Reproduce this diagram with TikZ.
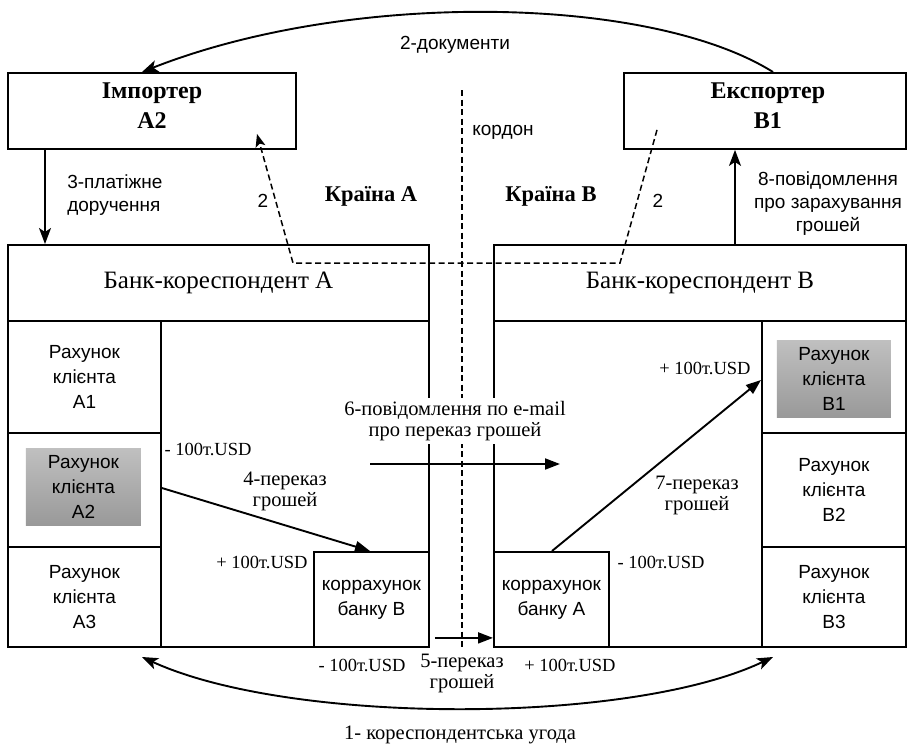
\documentclass[tikz,border=0pt]{standalone}
\usepackage{fontspec}
\setmainfont{Liberation Serif}
\newfontfamily\labelsans{Liberation Sans}
\usetikzlibrary{arrows.meta,calc}

\begin{document}
\begin{tikzpicture}[x=1pt,y=-1pt,
  line width=1.9pt,
  box/.style={draw, line width=1.9pt, anchor=north west, inner sep=0pt, align=center},
  shadebox/.style={anchor=north west, inner sep=0pt, align=center,
    top color=gray!50, bottom color=gray!80},
  sans/.style={font=\labelsans\fontsize{19}{23}\selectfont, align=center},
  acct/.style={font=\labelsans\fontsize{19}{25}\selectfont},
  serif/.style={font=\fontsize{20.5}{21}\selectfont, align=center},
  amount/.style={font=\fontsize{18.5}{20}\selectfont},
  heading/.style={font=\fontsize{25}{28}\selectfont},
  party/.style={font=\bfseries\fontsize{24}{30}\selectfont, align=center},
  country/.style={font=\bfseries\fontsize{22.5}{24}\selectfont},
  tip/.style={-{Triangle[length=15pt,width=11pt]}},
  stip/.style={-{Stealth[length=16pt,width=12pt,inset=4pt]}},
  border/.style={dash pattern=on 6pt off 3.5pt, line width=1.5pt},
]
\useasboundingbox[fill=white] (0,0) rectangle (911,748);

% parties
\node[box, minimum width=288pt, minimum height=76pt] (imp) at (7,72) {};
\node[party] (impT) at ($(imp.center)+(0,-5)$) {Імпортер\\A2};
\node[box, minimum width=282pt, minimum height=76pt] (exp) at (623,72) {};
\node[party] (expT) at ($(exp.center)+(3,-5)$) {Експортер\\B1};

% bank A
\node[box, heading, minimum width=421pt, minimum height=76pt] (bankA) at (7,244) {Банк-кореспондент А};
\node[box, minimum width=421pt, minimum height=326pt] (bodyA) at (7,320) {};
\node[box, acct, minimum width=153pt, minimum height=112pt] (accA1) at (7,320) {Рахунок\\клієнта\\A1};
\node[box, minimum width=153pt, minimum height=114pt] (accA2) at (7,432) {};
\node[box, acct, minimum width=153pt, minimum height=100pt] (accA3) at (7,546) {Рахунок\\клієнта\\A3};
\node[box, acct, minimum width=115pt, minimum height=95pt] (korrB) at (313,551) {коррахунок\\банку В};
\node[shadebox, acct, minimum width=115pt, minimum height=77pt] (shA2) at (25,448) {Рахунок\\клієнта\\A2};

% bank B
\node[box, heading, minimum width=412pt, minimum height=76pt] (bankB) at (493,244) {Банк-кореспондент В};
\node[box, minimum width=412pt, minimum height=326pt] (bodyB) at (493,320) {};
\node[box, minimum width=144pt, minimum height=112pt] (accB1) at (761,320) {};
\node[box, acct, minimum width=144pt, minimum height=114pt] (accB2) at (761,432) {Рахунок\\клієнта\\B2};
\node[box, acct, minimum width=144pt, minimum height=100pt] (accB3) at (761,546) {Рахунок\\клієнта\\B3};
\node[box, acct, minimum width=115pt, minimum height=95pt] (korrA) at (493,551) {коррахунок\\банку А};
\node[shadebox, acct, minimum width=114pt, minimum height=77pt] (shB1) at (776,340) {Рахунок\\клієнта\\B1};

% state border
\coordinate (kTop) at (462,90);
\coordinate (kBot) at (462,648);
\draw[border] (kTop) -- (kBot);
\node[sans, anchor=west] (kordon) at (468,132) {кордон};

\node[country] (cA) at (371,196) {Країна А};
\node[country] (cB) at (551,196) {Країна В};

% 2 - documents
\draw[stip] ($(exp.north west)+(150,0)$) .. controls (650,-5) and (350,-10) .. ($(imp.north west)+(135,0)$);
\node[sans] (docs) at (455,45) {2-документи};

\coordinate (dA) at ($(imp.south west)+(250,-16)$);
\coordinate (dB) at ($(exp.south west)+(34,-20)$);
\draw[border, -{Stealth[length=13pt,width=10pt,inset=3pt]}] (dB) -- (620,263) -- (293,263) -- (dA);
\node[sans] (two1) at (263,201) {2};
\node[sans] (two2) at (658,201) {2};

% 3 - payment order
\draw[stip] ($(imp.south west)+(38,0)$) -- ($(bankA.north west)+(38,0)$);
\node[sans, align=left, anchor=west] (l3) at (63,195) {3-платіжне\\доручення};

% 8 - credit notice
\draw[stip] ($(bankB.north west)+(242,0)$) -- ($(exp.south west)+(112,0)$);
\node[sans] (l8) at (828,204) {8-повідомлення\\про зарахування\\грошей};

% 4 - transfer inside bank A
\draw[tip] ($(accA2.north east)+(0,56)$) -- ($(korrB.north west)+(57,0)$);
\node[serif] (l4) at (285,491) {4-переказ\\грошей};
\node[amount] (m4a) at (208,449) {- 100т.USD};
\node[amount] (m4b) at (262,562) {+ 100т.USD};

% 6 - e-mail message
\coordinate (m6a) at (370,464);
\coordinate (m6b) at (560,464);
\draw[tip] (m6a) -- (m6b);
\node[serif, fill=white, inner sep=3pt] (l6) at (455,421) {6-повідомлення по e-mail\\про переказ грошей};

% 5 - transfer between banks
\draw[tip] ($(korrB.south east)+(5,-10)$) -- ($(korrA.south west)+(0,-10)$);
\node[serif] (l5) at (462,673) {5-переказ\\грошей};
\node[amount] (m5a) at (362,665) {- 100т.USD};
\node[amount] (m5b) at (570,665) {+ 100т.USD};

% 7 - transfer inside bank B
\draw[tip] ($(korrA.north west)+(59,0)$) -- ($(accB1.north west)+(0,60)$);
\node[serif] (l7) at (697,495) {7-переказ\\грошей};
\node[amount] (m7a) at (705,368) {+ 100т.USD};
\node[amount] (m7b) at (661,562) {- 100т.USD};

% 1 - correspondent agreement
\coordinate (agL) at (142,657);
\coordinate (agR) at (773,657);
\draw[{Stealth[length=16pt,width=12pt,inset=4pt]}-{Stealth[length=16pt,width=12pt,inset=4pt]}]
  (agL) .. controls (290,725) and (630,725) .. (agR);
\node[serif] (l1) at (460,735) {1- кореспондентська угода};
\end{tikzpicture}
\end{document}
